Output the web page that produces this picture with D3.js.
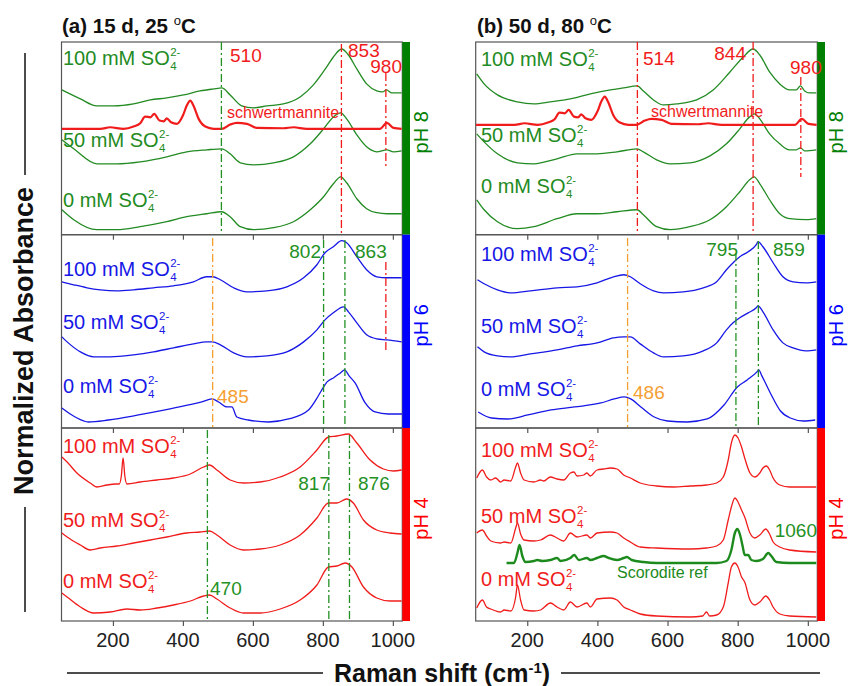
<!DOCTYPE html>
<html>
<head>
<meta charset="utf-8">
<script src="https://cdn.jsdelivr.net/npm/d3@7"></script>
<style>
  body { margin: 0; background: #fff; }
  svg { font-family: Arial, "Liberation Sans", Helvetica, sans-serif; }
</style>
</head>
<body>
<svg id="chart" width="848" height="686"></svg>
<script>
// ---- data (wavenumber cm-1, stacked normalized absorbance in a.u.) ----
const xTicks = [200, 400, 600, 800, 1000];
const concLabels = ["100", "50", "0"];
const phLabels = ["pH 8", "pH 6", "pH 4"];
const panelTitles = ["(a) 15 d, 25 ", "(b) 50 d, 80 "];

// (a) 15 d, 25 C
const a8_100 = [[54,145],[107,136],[154,129],[202,129],[259,131],[307,135],[354,137],[402,140],[449,144],[488,146],[511,147],[535,140],[568,129],[602,127],[640,129],[687,131],[735,138],[773,150],[811,168],[830,178],[854,186],[873,180],[897,166],[925,151],[954,144],[970,143],[982,145],[997,142],[1025,142]];
const a8_50 = [[54,95],[88,86],[154,71],[211,71],[278,73],[354,78],[411,83],[468,85],[511,86],[535,81],[564,72],[602,70],[659,72],[716,78],[764,91],[802,106],[830,118],[851,122],[868,116],[897,100],[925,88],[954,83],[983,85],[1002,83],[1025,84]];
const a8_0 = [[54,25],[88,15],[154,5],[211,5],[278,8],[354,13],[411,18],[468,21],[511,23],[535,18],[564,8],[602,5],[659,7],[716,13],[764,25],[802,38],[830,51],[851,58],[868,52],[897,36],[925,26],[954,22],[983,21],[1025,21]];

const a6_100 = [[54,146],[88,143],[126,140],[164,138],[211,137],[259,138],[316,140],[373,142],[430,146],[468,151],[485,151],[507,148],[545,140],[583,136],[640,137],[697,141],[745,150],[783,163],[806,175],[830,181],[854,187],[868,185],[897,171],[925,158],[954,151],[983,150],[1025,150]];
const a6_50 = [[54,91],[69,86],[107,76],[145,71],[192,71],[259,73],[316,76],[373,80],[430,84],[468,86],[485,86],[507,83],[545,75],[583,71],[640,72],[697,76],[745,86],[783,98],[806,108],[830,115],[859,121],[873,116],[897,105],[925,93],[954,89],[983,88],[1025,86]];
const a6_0 = [[54,20],[92,11],[130,6],[187,8],[273,13],[349,18],[416,23],[454,26],[483,29],[502,26],[526,21],[540,21],[554,11],[587,8],[645,6],[702,9],[759,18],[780,28],[797,38],[812,46],[830,50],[850,55],[862,58],[875,52],[892,45],[921,25],[949,16],[987,14],[1026,14]];

const a4_100 = [[54,164],[69,159],[97,148],[135,138],[154,134],[183,136],[207,137],[218,137],[224,145],[229,163],[234,145],[240,137],[278,139],[326,141],[373,143],[421,147],[459,154],[476,156],[497,151],[535,141],[573,138],[621,139],[678,144],[735,154],[783,171],[816,184],[840,185],[873,187],[897,178],[935,161],[973,152],[1002,150],[1025,151]];
const a4_50 = [[54,88],[69,84],[107,76],[135,71],[164,73],[211,75],[259,78],[307,81],[354,84],[411,88],[449,89],[476,90],[497,86],[535,76],[573,71],[621,72],[678,76],[735,86],[783,103],[816,118],[840,118],[868,122],[887,118],[916,101],[954,91],[992,88],[1025,87]];
const a4_0 = [[54,28],[69,24],[107,14],[145,8],[192,9],[240,12],[278,11],[326,13],[373,16],[421,20],[459,25],[476,26],[497,22],[535,13],[573,8],[621,8],[678,12],[735,21],[783,36],[816,54],[840,55],[864,58],[883,54],[916,34],[954,23],[992,20],[1025,20]];

// (b) 50 d, 80 C
const b8_100 = [[56,161],[77,151],[115,140],[172,133],[219,131],[266,133],[323,136],[380,141],[437,145],[475,147],[513,149],[531,144],[560,135],[588,130],[626,131],[683,135],[730,145],[778,163],[816,178],[844,186],[863,180],[891,163],[920,151],[948,145],[967,145],[979,149],[991,144],[1005,142],[1024,142]];
const b8_50 = [[56,101],[77,93],[115,81],[172,72],[219,71],[285,76],[342,81],[399,81],[456,83],[513,86],[531,83],[569,75],[607,71],[664,72],[721,79],[768,91],[806,106],[834,118],[849,121],[863,116],[891,101],[920,91],[948,85],[967,85],[979,87],[991,84],[1024,85]];
const b8_0 = [[56,35],[77,25],[115,13],[172,6],[219,8],[285,16],[342,21],[399,21],[456,23],[513,25],[531,20],[569,8],[607,5],[664,8],[721,15],[768,28],[806,43],[834,55],[847,58],[863,51],[891,35],[920,21],[948,16],[996,15],[1024,16]];

const b6_100 = [[58,148],[77,144],[115,138],[153,135],[209,137],[285,140],[342,141],[399,145],[446,151],[475,153],[494,151],[522,144],[560,137],[588,135],[645,136],[702,140],[740,146],[768,158],[787,165],[806,171],[830,176],[853,183],[858,186],[872,181],[901,165],[929,151],[958,146],[995,145],[1024,146]];
const b6_50 = [[58,81],[77,76],[115,72],[153,71],[209,74],[285,78],[342,82],[399,85],[446,90],[475,91],[494,91],[522,84],[560,75],[588,71],[645,72],[702,77],[740,85],[768,98],[787,105],[806,110],[830,115],[853,120],[858,122],[872,116],[901,98],[929,85],[958,80],[995,77],[1024,78]];
const b6_0 = [[60,16],[98,10],[145,9],[202,13],[268,18],[335,21],[410,25],[448,29],[477,31],[495,29],[524,21],[562,11],[600,7],[657,6],[713,9],[761,23],[799,41],[827,48],[855,56],[860,58],[869,52],[893,35],[922,17],[950,10],[988,7],[1021,8]];

const b4_100 = [[56,143],[72,151],[84,144],[96,141],[110,143],[124,139],[134,141],[153,140],[167,154],[172,158],[181,148],[191,141],[219,139],[238,141],[247,140],[266,144],[285,142],[304,141],[323,148],[333,149],[342,145],[361,146],[370,148],[380,145],[399,151],[418,152],[437,153],[456,152],[475,146],[494,143],[522,138],[569,135],[617,134],[664,135],[711,136],[740,138],[759,144],[773,161],[782,178],[792,186],[801,183],[811,174],[820,163],[835,148],[849,144],[863,148],[872,153],[882,155],[891,151],[901,143],[920,136],[948,134],[1024,134]];
const b4_50 = [[56,88],[72,91],[84,85],[96,80],[124,78],[134,79],[153,78],[167,93],[172,98],[181,87],[191,81],[219,80],[238,81],[266,86],[285,83],[304,80],[323,88],[342,84],[370,86],[380,83],[399,88],[437,89],[456,88],[475,83],[494,79],[522,74],[569,73],[664,72],[711,73],[740,75],[759,81],[773,101],[782,114],[792,123],[801,119],[811,111],[820,104],[835,88],[849,83],[863,86],[880,92],[891,87],[901,79],[920,74],[948,71],[1024,69]];
const b4_0 = [[56,13],[72,21],[84,14],[96,12],[124,9],[134,11],[153,10],[167,24],[172,36],[181,21],[191,11],[219,10],[238,11],[266,18],[285,14],[304,11],[323,19],[342,14],[370,18],[380,14],[399,22],[437,23],[456,21],[475,14],[494,11],[522,7],[569,5],[664,4],[700,5],[711,9],[720,5],[740,6],[759,14],[773,38],[782,54],[792,58],[801,54],[811,44],[820,39],[835,21],[849,16],[863,19],[880,25],[891,21],[901,14],[920,7],[948,5],[1024,4]];

// reference spectra (relative to their own baseline) and their stacking offsets
const schwertmannite = [[54,0],[164,0],[192,1.6],[230,0],[259,2.3],[278,5.6],[292,12.3],[307,11.6],[318,15],[333,8.3],[345,7.6],[354,10.6],[366,6.6],[383,5],[400,13.3],[411,23.3],[421,28.3],[430,23.3],[445,10],[464,2.3],[488,0],[511,0],[535,4.3],[554,6],[583,5],[611,1],[687,0.6],[716,1.6],[754,0],[830,0],[963,0],[983,6],[1002,1],[1025,0]];
const schwertOffset = [106, 110];
const scorodite = [[141,0],[162,0],[172,10],[178,18],[186,7],[195,1],[219,2],[228,3],[243,2],[266,3],[285,5],[295,2],[323,5],[334,8],[347,3],[370,5],[380,3],[399,5],[418,7],[432,5],[456,3],[475,5],[484,6],[498,3],[531,1],[569,0],[740,0],[768,2],[782,13],[792,30],[799,34],[806,29],[814,17],[820,8],[830,8],[839,3],[853,2],[872,4],[887,10],[896,7],[910,1],[948,0],[1024,0]];
const scoroditeOffset = 58;

// band positions marked in each panel
const peaksA8 = [510, 853, 980];
const peaksA6 = [485, 802, 863, 980];
const peaksA4 = [470, 817, 876];
const peaksB8 = [514, 844, 980];
const peaksB6 = [486, 795, 859];
const scoroditeBand = 1060;

const spectra = [
  [[a8_100, a8_50, a8_0], [a6_100, a6_50, a6_0], [a4_100, a4_50, a4_0]],
  [[b8_100, b8_50, b8_0], [b6_100, b6_50, b6_0], [b4_100, b4_50, b4_0]]
];

// ---- layout ----
const svg = d3.select('#chart');
const colX = [[61.5, 402.3], [475.7, 817.3]];
const rowY = [[42, 234.7], [234.7, 428], [428, 621]];
const barColors = ['#008000', '#0000ff', '#ff0000'];
const lineColors = ['#238b23', '#1717e6', '#f01c1c'];
const cGreen = '#249124', cRed = '#f01c1c', cOrange = '#f5a033';
const dash = '8,3,2,3';

const xs = colX.map(r => d3.scaleLinear().domain([53, 1027]).range(r));
const ys = rowY.map(r => d3.scaleLinear().domain([0, 193]).range([r[1], r[0]]));

const defs = svg.append('defs');
colX.forEach((cx, c) => rowY.forEach((ry, r) => {
  defs.append('clipPath').attr('id', `clip${c}${r}`)
    .append('rect').attr('x', cx[0]).attr('y', ry[0])
    .attr('width', cx[1] - cx[0]).attr('height', ry[1] - ry[0]);
}));

function lineGen(c, r, off = 0) {
  return d3.line()
    .x(d => xs[c](d[0]))
    .y(d => ys[r](d[1] + off))
    .curve(d3.curveMonotoneX);
}

function soLabel(x, yb, conc, color) {
  const t = svg.append('text').attr('x', x).attr('y', yb).attr('fill', color)
    .style('font-size', '20px').text(conc + ' mM SO');
  const w = t.node().getComputedTextLength();
  svg.append('text').attr('x', x + w + 0.5).attr('y', yb - 9).attr('fill', color)
    .style('font-size', '11.5px').text('2-');
  svg.append('text').attr('x', x + w + 0.5).attr('y', yb + 5).attr('fill', color)
    .style('font-size', '11.5px').text('4');
}

function vmark(c, v, y0, y1, color) {
  svg.append('line').attr('x1', xs[c](v)).attr('x2', xs[c](v))
    .attr('y1', y0).attr('y2', y1)
    .attr('stroke', color).attr('stroke-width', 1.3).attr('stroke-dasharray', dash);
}

function note(x, yb, txt, color, anchor = 'start', size = 19) {
  svg.append('text').attr('x', x).attr('y', yb).attr('fill', color)
    .attr('text-anchor', anchor).style('font-size', size + 'px').text(txt);
}

// frames, ticks, side bars
colX.forEach((cx, c) => {
  rowY.forEach((ry, r) => {
    svg.append('rect').attr('x', cx[0]).attr('y', ry[0])
      .attr('width', cx[1] - cx[0]).attr('height', ry[1] - ry[0])
      .attr('fill', 'none').attr('stroke', '#555').attr('stroke-width', 1.2);
    const ax = d3.axisBottom(xs[c]).tickValues(xTicks).tickSize(5).tickFormat('');
    const g = svg.append('g').attr('transform', `translate(0,${ry[1]})`).call(ax);
    g.select('.domain').remove();
    g.selectAll('line').attr('stroke', '#555').attr('stroke-width', 1.2);
    svg.append('rect').attr('x', cx[1]).attr('y', ry[0])
      .attr('width', 7.7).attr('height', ry[1] - ry[0]).attr('fill', barColors[r]);
    svg.append('text')
      .attr('transform', `translate(${cx[1] + 19},${(ry[0] + ry[1]) / 2 - 6}) rotate(-90)`)
      .attr('text-anchor', 'middle').attr('dominant-baseline', 'central')
      .attr('fill', barColors[r]).style('font-size', '20px').text(phLabels[r]);
  });
  const labs = svg.append('g').attr('transform', `translate(0,647)`);
  xTicks.forEach(t => {
    labs.append('text').attr('x', xs[c](t)).attr('text-anchor', 'middle')
      .attr('fill', '#222').style('font-size', '20px').text(t);
  });
});

// spectra
spectra.forEach((col, c) => col.forEach((row, r) => {
  const g = svg.append('g').attr('clip-path', `url(#clip${c}${r})`);
  row.forEach(s => {
    g.append('path').datum(s).attr('d', lineGen(c, r))
      .attr('fill', 'none').attr('stroke', lineColors[r]).attr('stroke-width', 1.3);
  });
}));

// reference spectra
[0, 1].forEach(c => {
  svg.append('g').attr('clip-path', `url(#clip${c}0)`).append('path')
    .datum(schwertmannite).attr('d', lineGen(c, 0, schwertOffset[c]))
    .attr('fill', 'none').attr('stroke', cRed).attr('stroke-width', 2.2);
});
svg.append('g').attr('clip-path', 'url(#clip12)').append('path')
  .datum(scorodite).attr('d', lineGen(1, 2, scoroditeOffset))
  .attr('fill', 'none').attr('stroke', '#1d8a1d').attr('stroke-width', 2.4);

// band markers (a)
vmark(0, peaksA8[0], 42, 234.7, cGreen);
vmark(0, peaksA8[1], 44, 234.7, cRed);
vmark(0, peaksA8[2], 73, 168, cRed);
note(230, 62, peaksA8[0], cRed);
note(348, 57, peaksA8[1], cRed);
note(402, 73, peaksA8[2], cRed, 'end');
vmark(0, peaksA6[0], 238, 428, cOrange);
vmark(0, peaksA6[1], 240, 428, cGreen);
vmark(0, peaksA6[2], 240, 428, cGreen);
vmark(0, peaksA6[3], 262, 350, cRed);
note(217, 403, peaksA6[0], cOrange);
note(321, 258, peaksA6[1], cGreen, 'end');
note(355, 258, peaksA6[2], cGreen);
vmark(0, peaksA4[0], 430, 621, cGreen);
vmark(0, peaksA4[1], 435, 621, cGreen);
vmark(0, peaksA4[2], 435, 621, cGreen);
note(210, 595, peaksA4[0], cGreen);
note(330, 490, peaksA4[1], cGreen, 'end');
note(358, 490, peaksA4[2], cGreen);

// band markers (b)
vmark(1, peaksB8[0], 42, 234.7, cRed);
vmark(1, peaksB8[1], 42, 234.7, cRed);
vmark(1, peaksB8[2], 77, 177, cRed);
note(643, 65, peaksB8[0], cRed);
note(746, 60, peaksB8[1], cRed, 'end');
note(790, 74, peaksB8[2], cRed);
vmark(1, peaksB6[0], 238, 428, cOrange);
vmark(1, peaksB6[1], 253, 428, cGreen);
vmark(1, peaksB6[2], 241, 428, cGreen);
note(633, 399, peaksB6[0], cOrange);
note(738, 256, peaksB6[1], cGreen, 'end');
note(773, 256, peaksB6[2], cGreen);
note(817, 537, scoroditeBand, cGreen, 'end');

note(227, 118, 'schwertmannite', cRed, 'start', 16);
note(651, 117, 'schwertmannite', cRed, 'start', 16);
note(617, 578, 'Scorodite ref', '#1d8a1d', 'start', 16);

// concentration labels
const labelBase = [
  [[65, 147, 207], [276, 329, 393], [453, 527, 588]],
  [[66, 142, 193], [261, 333, 396], [457, 523, 586]]
];
[0, 1].forEach(c => [0, 1, 2].forEach(r => concLabels.forEach((k, i) => {
  soLabel(c === 0 ? 63 : 481, labelBase[c][r][i], k, lineColors[r]);
})));

// titles
panelTitles.forEach((t, c) => {
  const tt = svg.append('text').attr('x', c === 0 ? 62 : 477).attr('y', 33)
    .style('font-size', '20.5px').style('font-weight', 'bold').attr('fill', '#111');
  tt.append('tspan').text(t);
  tt.append('tspan').attr('dy', -8).style('font-size', '13px').style('font-weight', 'normal').text('o');
  tt.append('tspan').attr('dy', 8).text('C');
});

// axis titles
const xl = svg.append('text').attr('x', 442).attr('y', 682).attr('text-anchor', 'middle')
  .style('font-size', '25px').style('font-weight', 'bold').attr('fill', '#111');
xl.append('tspan').text('Raman shift (cm');
xl.append('tspan').attr('dy', -9).style('font-size', '15px').text('-1');
xl.append('tspan').attr('dy', 9).text(')');
svg.append('line').attr('x1', 67).attr('x2', 323).attr('y1', 673).attr('y2', 673)
  .attr('stroke', '#111').attr('stroke-width', 1.5);
svg.append('line').attr('x1', 561).attr('x2', 820).attr('y1', 673).attr('y2', 673)
  .attr('stroke', '#111').attr('stroke-width', 1.5);

svg.append('text').attr('transform', 'translate(33,341) rotate(-90)')
  .attr('text-anchor', 'middle').style('font-size', '27px').style('font-weight', 'bold')
  .attr('fill', '#111').text('Normalized Absorbance');
svg.append('line').attr('x1', 25).attr('x2', 25).attr('y1', 53).attr('y2', 175)
  .attr('stroke', '#111').attr('stroke-width', 1.5);
svg.append('line').attr('x1', 25).attr('x2', 25).attr('y1', 507).attr('y2', 612)
  .attr('stroke', '#111').attr('stroke-width', 1.5);
</script>
</body>
</html>
